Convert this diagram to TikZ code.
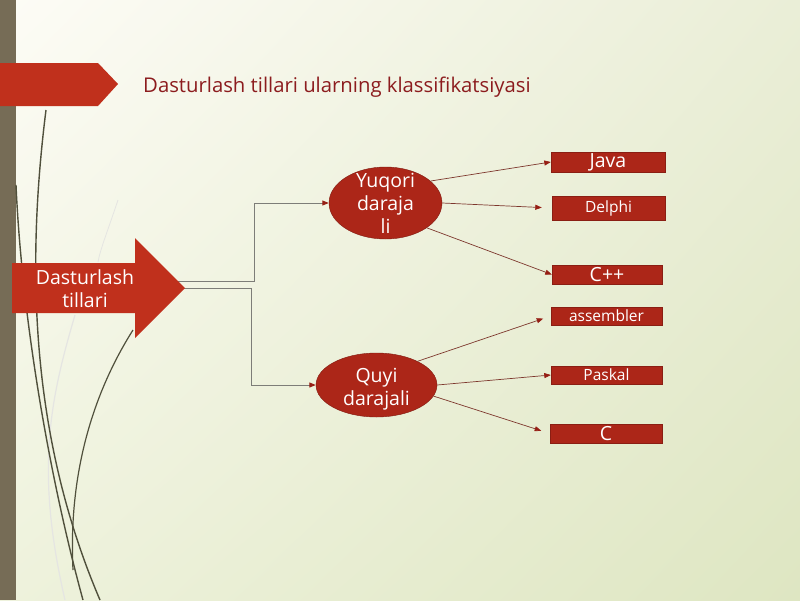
\documentclass[tikz,border=0pt]{standalone}
\usepackage{fontspec}
\setmainfont{Open Sans}
\usetikzlibrary{shapes.geometric,arrows.meta,shadings}
\definecolor{slidered}{RGB}{192, 48, 28}
\definecolor{boxred}{RGB}{172, 38, 24}
\definecolor{titlered}{RGB}{140, 28, 30}
\definecolor{linkred}{RGB}{125, 55, 45}
\definecolor{tipred}{RGB}{150, 30, 20}
\definecolor{linkgray}{RGB}{125, 125, 120}
\definecolor{barolive}{RGB}{118, 108, 86}
\definecolor{curveolive}{RGB}{80, 80, 60}
\definecolor{bgcream}{RGB}{253, 252, 246}
\definecolor{bgright}{RGB}{234, 238, 215}
\definecolor{bglow}{RGB}{238, 242, 220}
\definecolor{bggreen}{RGB}{222, 230, 194}

\begin{document}
\begin{tikzpicture}[x=1pt, y=-1pt,
    curve/.style={draw=curveolive, line width=1.4pt},
    faint/.style={draw=curveolive!15, line width=1.2pt},
    levelnode/.style={ellipse, draw=boxred!75!black, fill=boxred, inner sep=0pt},
    leveltext/.style={text=white, align=center, font=\fontsize{19.5}{23}\selectfont},
    langbox/.style={rectangle, draw=boxred!80!black, fill=boxred, text=white, inner sep=0pt},
    bigfont/.style={font=\fontsize{19.5}{22}\selectfont},
    smallfont/.style={font=\fontsize{15.5}{18}\selectfont},
    link/.style={draw=linkred, line width=0.7pt, -{Triangle[length=6.5pt, width=5pt, color=tipred]}},
    trunk/.style={draw=linkgray, line width=0.9pt, -{Triangle[length=6.5pt, width=5pt, color=tipred]}}]
            \useasboundingbox (0,0) rectangle (800,600);
            % Background
            \shade[upper left=bgcream, upper right=bgright, lower left=bglow, lower right=bggreen] (0,0) rectangle (800,600);
            \fill[barolive] (0,0) rectangle (16,600);
            % Decorative curves
            \draw[faint] (75,315) .. controls (50,400) and (35,470) .. (65,600);
            \draw[faint, line width=0.8pt] (118,200) .. controls (108,230) and (100,250) .. (98,262);
            \draw[curve] (46,110) .. controls (22,300) and (40,460) .. (100,600);
            \draw[curve] (16,185) .. controls (22,320) and (50,480) .. (83,600);
            \draw[curve, line width=1.2pt] (133,330) .. controls (95,390) and (68,470) .. (73,570);
            % Title banner
            \fill[slidered] (0,63) -- (98,63) -- (118,84) -- (98,106) -- (0,106) -- cycle;
            \node[anchor=base west, inner sep=0pt, text=titlered, font=\fontsize{20.3}{24}\selectfont] (title) at (143,92) {Dasturlash tillari ularning klassifikatsiyasi};
            % Levels
            \node[levelnode, minimum width=113pt, minimum height=72pt,
                  label={[leveltext]center:Yuqori\\daraja\\li}] (yuq) at (385.5,203) {};
            \node[levelnode, minimum width=121pt, minimum height=64pt,
                  label={[leveltext, yshift=-4pt]center:Quyi\\darajali}] (quyi) at (376.5,385) {};
            % Languages
            \node[langbox, bigfont,   minimum width=114pt, minimum height=20pt] (java)   at (608.0,162.0) {Java};
            \node[langbox, smallfont, minimum width=113pt, minimum height=24pt] (delphi) at (608.5,208.0) {Delphi};
            \node[langbox, bigfont,   minimum width=110pt, minimum height=19pt] (cpp)    at (607.0,274.5) {C++};
            \node[langbox, smallfont, minimum width=111pt, minimum height=18pt] (asm)    at (606.5,316.0) {assembler};
            \node[langbox, smallfont, minimum width=111pt, minimum height=18pt] (paskal) at (606.5,375.0) {Paskal};
            \node[langbox, bigfont,   minimum width=112pt, minimum height=19pt] (cee)    at (606.0,433.5) {C};
            % Links
            \draw[link] (yuq.26) -- (java.west);
            \draw[link, shorten >=10pt] (yuq.east) -- (delphi.west);
            \draw[link] (yuq.-31) -- (cpp.west);
            \draw[link, shorten >=8pt] (quyi.30) -- (asm.west);
            \draw[link] (quyi.east) -- (paskal.west);
            \draw[link, shorten >=9pt] (quyi.-11) -- (cee.west);
            % Trunk from the big arrow
            \coordinate (tipup) at (178,281);
            \coordinate (tiplow) at (183,288);
            \draw[trunk] (tipup) -- ++(76,0) |- (yuq.west);
            \draw[trunk] (tiplow) -- ++(68,0) |- (quyi.west);
            % Big arrow
            \fill[slidered] (12,263) -- (135,263) -- (135,238) -- (185,288) -- (135,338) -- (135,313) -- (12,313) -- cycle;
            \node[leveltext] (src) at (85,289) {Dasturlash\\tillari};
        \end{tikzpicture}
\end{document}
